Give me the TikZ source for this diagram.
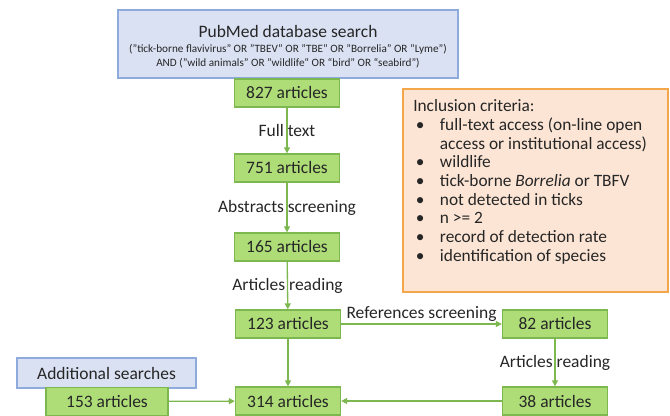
\documentclass[tikz,border=0pt]{standalone}
\usepackage{fontspec}
\setmainfont{Carlito}
\usetikzlibrary{arrows.meta}

\definecolor{boxblue}{HTML}{DAE1F3}
\definecolor{lineblue}{HTML}{8FAADC}
\definecolor{boxgreen}{HTML}{AEDD78}
\definecolor{linegreen}{HTML}{7CB84F}
\definecolor{boxorange}{HTML}{FCE5D5}
\definecolor{lineorange}{HTML}{F4A64A}
\definecolor{textgrey}{HTML}{262626}

\newcommand{\critem}[1]{\makebox[20pt][l]{\hspace{2pt}\textbullet}#1}
\newcommand{\crindent}{\hspace*{20pt}}

\tikzset{
  artbox/.style={draw=linegreen, fill=boxgreen, line width=1pt, minimum width=78.75pt, minimum height=21pt, inner sep=0pt, text=textgrey, font=\fontsize{13.1}{15}\selectfont},
  searchbox/.style={draw=lineblue, fill=boxblue, line width=1pt, inner sep=0pt, text=textgrey, font=\fontsize{13.1}{15}\selectfont},
  querytext/.style={inner sep=0pt, text=textgrey, font=\fontsize{8.4}{10}\selectfont},
  steplabel/.style={inner sep=1pt, text=textgrey, font=\fontsize{13.1}{15}\selectfont},
  flow/.style={draw=linegreen, line width=1pt, -{Triangle[length=4.5pt,width=4.5pt]}},
}

\begin{document}
\begin{tikzpicture}[x=0.75pt,y=0.75pt,yscale=-1,xscale=1]
\useasboundingbox (0,0) rectangle (670,416);
% search
\node[searchbox, minimum width=255pt, minimum height=51pt] (pubmed) at (288,44) {};
\node[steplabel] (pubmedtitle) at (288,32) {PubMed database search};
\node[querytext] (query1) at (288,49) {("tick-borne flavivirus" OR "TBEV" OR "TBE" OR "Borrelia" OR "Lyme")};
\node[querytext] (query2) at (288,63) {AND ("wild animals" OR "wildlife“ OR “bird” OR “seabird”)};
% criteria
\node[draw=lineorange, fill=boxorange, line width=1pt, minimum width=198.75pt, minimum height=152.25pt] (criteriabox) at (535.5,190.5) {};
\node[anchor=north west, inner sep=0pt, align=left, text=textgrey, font=\fontsize{13}{14}\selectfont] (criteria) at (413,99.5) {Inclusion criteria:\\
  \critem{full-text access (on-line open}\\
  \crindent access or institutional access)\\
  \critem{wildlife}\\
  \critem{tick-borne \textit{Borrelia} or TBFV}\\
  \critem{not detected in ticks}\\
  \critem{n >= 2}\\
  \critem{record of detection rate}\\
  \critem{identification of species}};
% articles
\node[artbox] (n827) at (287,93) {827 articles};
\node[artbox] (n751) at (287,168) {751 articles};
\node[artbox] (n165) at (287,247) {165 articles};
\node[artbox] (n123) at (288,324) {123 articles};
\node[artbox] (n82) at (555,324) {82 articles};
\node[artbox] (n38) at (555,401) {38 articles};
\node[artbox] (n314) at (288,401) {314 articles};
\node[searchbox, minimum width=134.25pt, minimum height=22.5pt] (additional) at (106.5,373) {Additional searches};
\node[artbox, minimum width=91.5pt] (n153) at (107,401.5) {153 articles};
% flow
\draw[flow] (n827) -- node[steplabel] (fulltext) {Full text} (n751);
\draw[flow] (n751) -- node[steplabel] (abstracts) {Abstracts screening} (n165);
\draw[flow] (n165) -- node[steplabel] (reading) {Articles reading} (n123);
\draw[flow] (n123) -- node[steplabel, above] (references) {References screening} (n82);
\draw[flow] (n82) -- node[steplabel] (reading2) {Articles reading} (n38);
\draw[flow] (n123) -- (n314);
\draw[flow] (n38) -- (n314);
\draw[flow] (n153) -- (n314);
\end{tikzpicture}
\end{document}
